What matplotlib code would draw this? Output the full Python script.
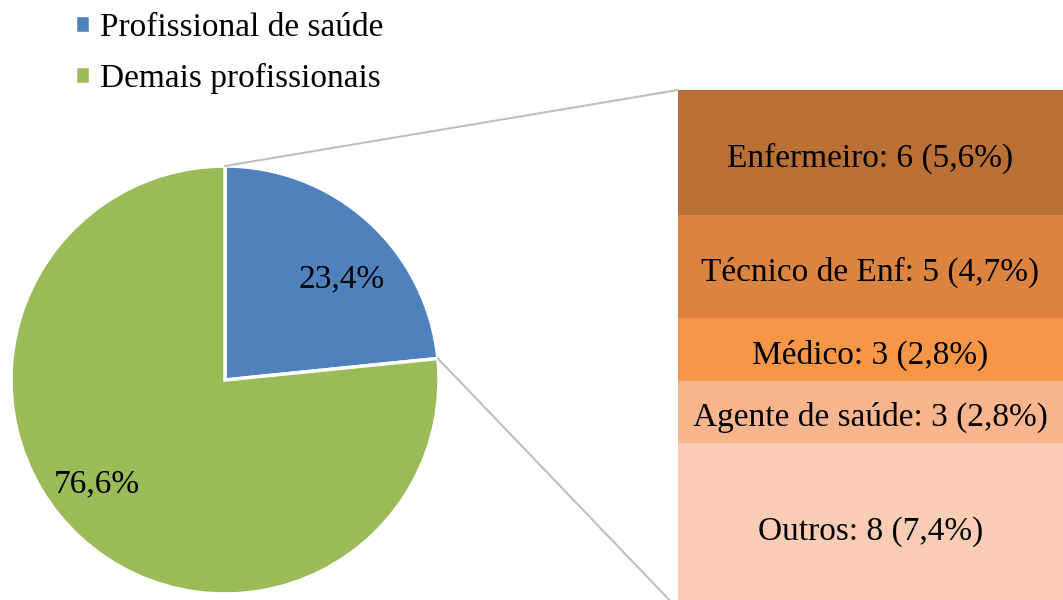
import numpy as np
import matplotlib.pyplot as plt
from matplotlib.patches import ConnectionPatch

plt.rcParams['font.family'] = ['Liberation Serif', 'DejaVu Serif']

# pie data
pie_labels = ['Profissional de saúde', 'Demais profissionais']
pie_values = [23.4, 76.6]
pie_colors = ['#4F81BD', '#9BBB59']

# breakdown of the health professionals slice (top to bottom)
bar_names = ['Enfermeiro', 'Técnico de Enf', 'Médico', 'Agente de saúde', 'Outros']
bar_counts = [6, 5, 3, 3, 8]
bar_pcts = ['5,6%', '4,7%', '2,8%', '2,8%', '7,4%']
bar_colors = ['#B87034', '#DD8340', '#F79646', '#F9B58E', '#FBCDB7']

W, H = 1063, 600
fs = 24
fig = plt.figure(figsize=(W / 100, H / 100), dpi=100)

# pie axes: center ~(225,380) px, radius ~214 px
cx, cy, r = 225, 380, 214
ax1 = fig.add_axes([(cx - r) / W, (H - cy - r) / H, 2 * r / W, 2 * r / H])
wedges, texts, autotexts = ax1.pie(
    pie_values, colors=pie_colors, startangle=90, counterclock=False,
    autopct=lambda p: f'{p:.1f}%'.replace('.', ','), pctdistance=0.74,
    wedgeprops=dict(edgecolor='white', linewidth=2.5),
    textprops=dict(fontsize=fs, color='black'))
# nudge label placement like the original (angle deg, radius fraction)
for t, (ang, dist) in zip(autotexts, [(41, 0.72), (219, 0.77)]):
    t.set_position((dist * np.cos(np.deg2rad(ang)), dist * np.sin(np.deg2rad(ang))))
ax1.set_xlim(-1, 1)
ax1.set_ylim(-1, 1)
ax1.set_aspect('equal')

# stacked bar axes (runs slightly past the bottom edge)
bx0, by0, bh = 678, 90, 519
ax2 = fig.add_axes([bx0 / W, (H - by0 - bh) / H, (W - bx0) / W, bh / H])
total = sum(bar_counts)
top = total
for name, cnt, pct, col in zip(bar_names, bar_counts, bar_pcts, bar_colors):
    bottom = top - cnt
    ax2.bar(0, cnt, bottom=bottom, width=1, color=col, edgecolor='none')
    ax2.annotate(f'{name}: {cnt} ({pct})', (0, bottom + cnt / 2),
                 xytext=(0, -6), textcoords='offset pixels', ha='center',
                 va='center', fontsize=fs, color='black')
    top = bottom
ax2.set_xlim(-0.5, 0.5)
ax2.set_ylim(0, total)
ax2.axis('off')

# connector lines
theta1, theta2 = wedges[0].theta1, wedges[0].theta2
center, rad = wedges[0].center, wedges[0].r
for ang, yb in [(theta2, total), (theta1, 0)]:
    x = rad * np.cos(np.deg2rad(ang)) + center[0]
    y = rad * np.sin(np.deg2rad(ang)) + center[1]
    con = ConnectionPatch(xyA=(-0.5, yb), coordsA=ax2.transData,
                          xyB=(x, y), coordsB=ax1.transData,
                          color='#BFBFBF', linewidth=1.5)
    fig.add_artist(con)

fig.legend(wedges, pie_labels, loc='upper left', bbox_to_anchor=(45 / W, 1.03),
           frameon=False, fontsize=fs, handlelength=0.45, handleheight=0.45,
           handletextpad=0.3, labelspacing=0.6)

fig.savefig('out.png', dpi=100)
